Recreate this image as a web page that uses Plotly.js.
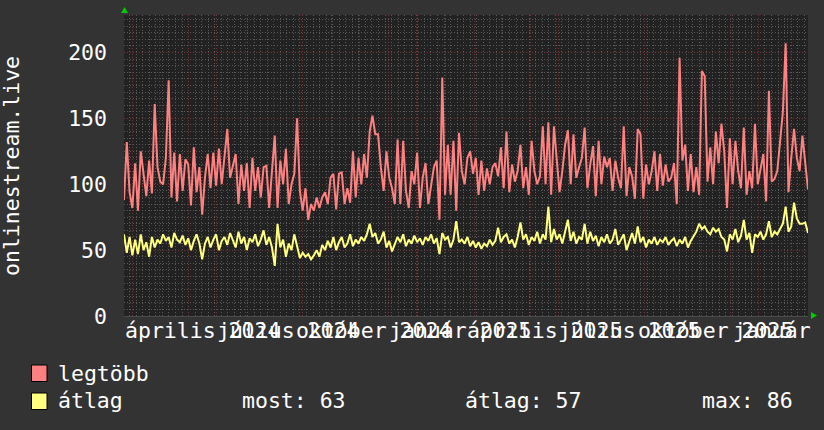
<!DOCTYPE html>
<html><head><meta charset="utf-8">
<script src="https://cdn.plot.ly/plotly-3.0.1.min.js"></script>
<style>html,body{margin:0;padding:0;background:#333333;}#chart{width:824px;height:430px;}</style>
</head><body><div id="chart"></div>
<script>
// ---- data ----
const startDate = '2024-01-23';
const endDate = '2026-01-23';
const stepDays = 731 / 245;   // one sample every ~3 days
const seriesNames = ['legtöbb', 'átlag'];
const seriesColors = ['#ff8080', '#ffff80'];
const maxValues = [
 88,132,94,82,116,80,125,108,91,118,
 93,161,113,102,100,120,179,90,124,87,
 123,95,119,115,84,128,94,113,77,105,
 123,97,124,99,127,100,120,142,105,115,
 123,85,115,95,116,82,120,95,113,90,
 113,114,82,110,137,82,118,100,127,85,
 100,108,150,95,80,97,73,85,80,90,
 82,90,94,85,105,108,81,108,109,85,
 97,86,125,90,120,100,123,105,140,152,
 138,138,113,95,125,105,97,85,134,85,
 133,95,82,110,100,124,82,105,116,85,
 100,113,118,73,181,92,130,92,133,80,
 139,110,100,120,125,108,120,92,118,95,
 112,100,113,116,106,128,97,140,94,115,
 102,110,130,97,113,92,133,110,100,106,
 144,100,147,92,144,118,94,110,130,141,
 100,138,105,113,120,143,97,115,129,91,
 133,100,121,113,120,95,118,105,97,144,
 91,113,106,89,142,138,89,115,100,110,
 125,95,123,99,115,102,105,116,85,196,
 118,130,95,123,94,113,92,186,182,102,
 128,100,140,116,146,125,82,135,100,133,
 110,97,143,92,110,97,146,100,113,123,
 87,171,102,104,110,135,155,207,94,120,
 142,120,110,137,115,96
];
const avgValues = [
 62,48,60,46,58,47,62,50,56,45,
 60,52,58,55,62,57,60,52,63,58,
 56,61,54,59,50,57,62,55,43,55,
 60,52,58,62,50,57,60,54,63,57,
 52,64,55,60,50,59,56,62,53,58,
 65,54,60,52,38,70,52,58,45,55,
 50,62,52,44,48,45,47,43,46,50,
 45,54,50,57,52,60,50,56,60,52,
 55,62,53,58,55,60,57,62,70,60,
 63,55,58,64,52,57,49,55,60,56,
 62,53,58,55,61,56,59,54,60,57,
 62,55,59,47,63,58,60,52,58,72,
 56,58,55,60,53,57,52,56,51,55,
 53,58,54,57,67,56,60,62,55,58,
 52,60,71,58,62,54,60,57,64,55,
 62,58,83,56,66,58,62,55,64,73,
 57,64,55,60,58,70,55,64,57,61,
 53,60,56,62,55,58,66,54,58,62,
 50,57,63,55,68,56,60,52,58,55,
 60,54,58,56,60,54,57,59,53,58,
 55,60,52,57,61,64,70,66,68,64,
 62,67,64,66,60,58,49,62,58,66,
 56,61,73,58,63,48,62,60,64,58,
 62,72,60,64,62,66,70,83,64,68,
 86,74,70,70,71,63
];
const tickDates = ['2024-04-16','2024-07-16','2024-10-16','2025-01-16','2025-04-16','2025-07-16','2025-10-16','2026-01-16'];
const tickLabels = ['április 2024','július 2024','október 2024','január 2025','április 2025','július 2025','október 2025','január 2026'];
const yTitle = 'onlinestream.live';
const legendStats = ['most: 63', 'átlag: 57', 'max: 86'];

// ---- layout helpers ----
const W = 824, H = 430, L = 124, R = 808, T = 15, B = 316;
const px = x => (x - L) / (R - L);
const py = y => (B - y) / (B - T);
const FONT = 'DejaVu Sans Mono, monospace';
const FS = 21.5;
const GRID_MINOR = '#595959';
const GRID_MAJOR = '#7a3434';

const t0 = Date.UTC(2024, 0, 23);
const xDates = maxValues.map((_, i) => t0 + i * stepDays * 86400000);

const traces = [
  {x: xDates, y: maxValues, type: 'scatter', mode: 'lines', name: seriesNames[0],
   line: {color: seriesColors[0], width: 2, shape: 'linear'}, hoverinfo: 'skip'},
  {x: xDates, y: avgValues, type: 'scatter', mode: 'lines', name: seriesNames[1],
   line: {color: seriesColors[1], width: 2, shape: 'linear'}, hoverinfo: 'skip'}
];

const annotations = [];
tickDates.forEach((d, i) => annotations.push({
  x: d, xref: 'x', y: py(330), yref: 'paper', text: tickLabels[i], showarrow: false,
  xanchor: 'center', yanchor: 'middle', xshift: (i === tickDates.length - 1 ? 3 : 0),
  font: {family: FONT, size: FS, color: '#ffffff'}
}));
annotations.push({x: px(11.5), xref: 'paper', y: 0.5, yref: 'paper', text: yTitle, textangle: -90,
  showarrow: false, xanchor: 'center', yanchor: 'middle', font: {family: FONT, size: FS, color: '#ffffff'}});
annotations.push({x: px(56), xref: 'paper', y: py(373), yref: 'paper', text: seriesNames[0], showarrow: false,
  xanchor: 'left', yanchor: 'middle', font: {family: FONT, size: FS, color: '#ffffff'}});
annotations.push({x: px(56), xref: 'paper', y: py(400), yref: 'paper', text: seriesNames[1], showarrow: false,
  xanchor: 'left', yanchor: 'middle', font: {family: FONT, size: FS, color: '#ffffff'}});
[240, 463, 700].forEach((xp, i) => annotations.push({x: px(xp), xref: 'paper', y: py(400), yref: 'paper',
  text: legendStats[i], showarrow: false, xanchor: 'left', yanchor: 'middle',
  font: {family: FONT, size: FS, color: '#ffffff'}}));

const shapes = [
  {type: 'rect', xref: 'paper', yref: 'paper', x0: px(31.5), x1: px(47), y0: py(365), y1: py(381.5),
   fillcolor: seriesColors[0], line: {color: '#000000', width: 1}},
  {type: 'rect', xref: 'paper', yref: 'paper', x0: px(31.5), x1: px(47), y0: py(393), y1: py(409.5),
   fillcolor: seriesColors[1], line: {color: '#000000', width: 1}},
  {type: 'path', xref: 'paper', yref: 'paper', fillcolor: '#00cc00', line: {width: 0},
   path: `M ${px(121)} ${py(13)} L ${px(128)} ${py(13)} L ${px(124.5)} ${py(7)} Z`},
  {type: 'path', xref: 'paper', yref: 'paper', fillcolor: '#00cc00', line: {width: 0},
   path: `M ${px(811)} ${py(312)} L ${px(811)} ${py(319)} L ${px(817)} ${py(315.5)} Z`}
];

const layout = {
  width: W, height: H,
  margin: {l: L, r: W - R, t: T, b: H - B, pad: 0},
  paper_bgcolor: '#333333', plot_bgcolor: '#222222',
  showlegend: false,
  font: {family: FONT, size: FS, color: '#ffffff'},
  xaxis: {type: 'date', range: [startDate, endDate], tick0: '2024-01-01', dtick: 'M1',
    showticklabels: false, ticks: '', showgrid: true, gridcolor: GRID_MAJOR, griddash: '1px,2px', gridwidth: 1,
    minor: {tick0: '2024-01-01', dtick: 7 * 86400000, showgrid: true, gridcolor: GRID_MINOR, griddash: '1px,2px', gridwidth: 1},
    showline: true, linecolor: '#4a4a4a', linewidth: 1, zeroline: false, fixedrange: true},
  yaxis: {range: [0, 228.5], tick0: 0, dtick: 50, ticks: '', ticklabelstandoff: 16,
    tickfont: {family: FONT, size: FS, color: '#ffffff'},
    showgrid: true, gridcolor: GRID_MAJOR, griddash: '1px,2px', gridwidth: 1,
    minor: {dtick: 5, showgrid: true, gridcolor: GRID_MINOR, griddash: '1px,2px', gridwidth: 1},
    showline: false, zeroline: false, fixedrange: true},
  annotations: annotations,
  shapes: shapes
};

Plotly.newPlot('chart', traces, layout, {staticPlot: true, displayModeBar: false});
</script>
</body></html>
